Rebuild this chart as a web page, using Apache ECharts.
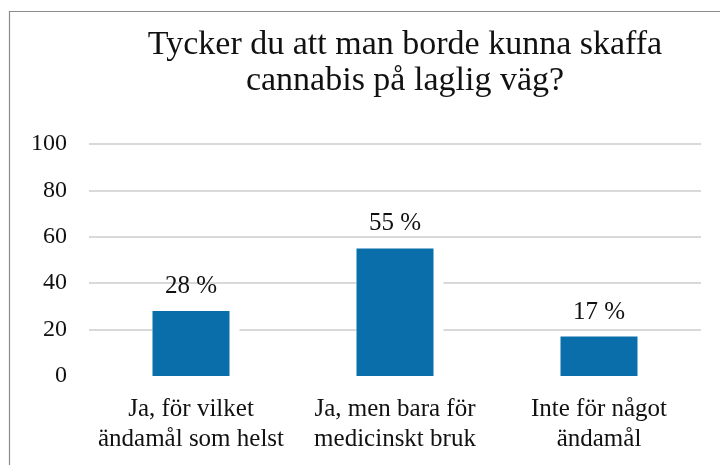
<!DOCTYPE html>
<html>
<head>
<meta charset="utf-8">
<script src="https://cdn.jsdelivr.net/npm/echarts@6/dist/echarts.min.js"></script>
<style>
  html, body { margin: 0; padding: 0; background: #fff; }
  #chart { width: 720px; height: 465px; }
</style>
</head>
<body>
<div id="chart"></div>
<script>
const titleText = 'Tycker du att man borde kunna skaffa\ncannabis på laglig väg?';
const categories = [
  'Ja, för vilket\nändamål som helst',
  'Ja, men bara för\nmedicinskt bruk',
  'Inte för något\nändamål'
];
const shares = [28, 55, 17];
const yTicks = [0, 20, 40, 60, 80, 100];

const serif = "'Liberation Serif', 'Times New Roman', serif";

document.addEventListener('DOMContentLoaded', () => {
  echarts.init(document.querySelector('#chart')).setOption({
    animation: false,
    title: {
      text: titleText,
      left: 400,
      top: 22,
      textAlign: 'center',
      textStyle: {
        fontFamily: serif,
        fontSize: 34,
        fontWeight: 'normal',
        color: '#111',
        lineHeight: 36
      }
    },
    graphic: [{
      type: 'rect',
      z: -10,
      shape: { x: 9.5, y: 11.5, width: 730, height: 470 },
      style: { fill: 'none', stroke: '#8c8c8c', lineWidth: 1.2 }
    }],
    grid: { left: 89, right: 19, top: 144, bottom: 89 },
    xAxis: {
      type: 'category',
      data: categories,
      axisTick: { show: false },
      axisLine: { show: true, lineStyle: { color: '#fff', width: 3 } },
      axisLabel: {
        interval: 0,
        margin: 18,
        fontFamily: serif,
        fontSize: 25,
        lineHeight: 30,
        color: '#111'
      }
    },
    yAxis: {
      type: 'value',
      min: yTicks[0],
      max: yTicks[yTicks.length - 1],
      interval: 20,
      axisLine: { show: false },
      axisTick: { show: false },
      axisLabel: {
        margin: 22,
        fontFamily: serif,
        fontSize: 24,
        color: '#111'
      },
      splitLine: { lineStyle: { color: '#d9d9d9', width: 2 } }
    },
    series: [
      {
        // white halo behind each bar, so the grid lines stop short of the bar
        type: 'bar',
        data: shares,
        barWidth: 87,
        barGap: '-100%',
        silent: true,
        itemStyle: { color: '#fff' }
      },
      {
        type: 'bar',
        data: shares,
        barWidth: 77,
        itemStyle: { color: '#0a6eab' },
        label: {
          show: true,
          position: 'top',
          distance: 12,
          formatter: p => p.value + ' %',
          fontFamily: serif,
          fontSize: 25,
          color: '#111'
        }
      }
    ]
  });
});
</script>
</body>
</html>
